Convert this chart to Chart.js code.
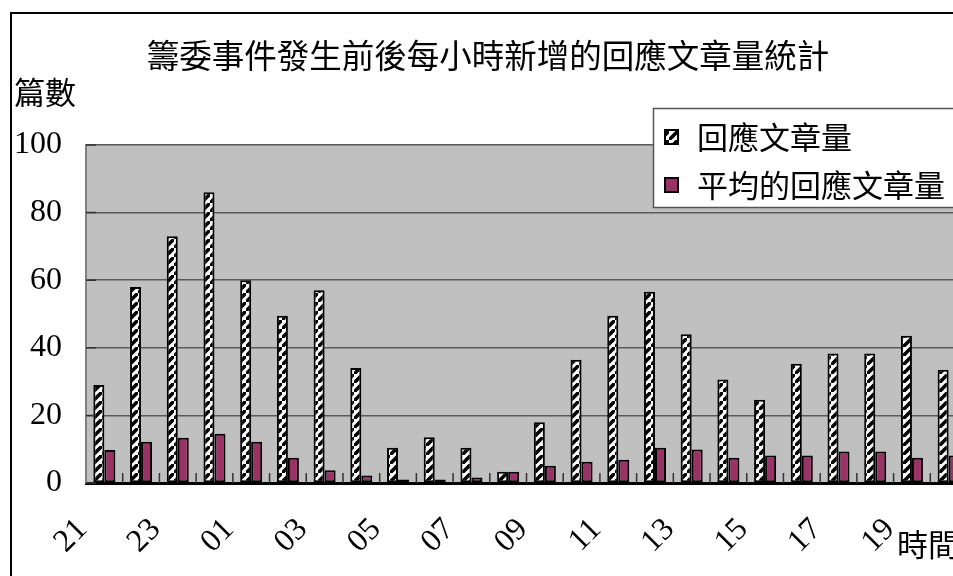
<!DOCTYPE html>
<html lang="zh-Hant">
<head>
<meta charset="UTF-8">
<title>籌委事件發生前後每小時新增的回應文章量統計</title>
<script src="https://cdn.jsdelivr.net/npm/chart.js"></script>
<style>
  html, body { margin: 0; padding: 0; background: #fff; overflow: hidden; }
  #frame {
    position: absolute; left: 10px; top: 12px;
    width: 1100px; height: 600px;
    border-left: 2px solid #000; border-top: 2px solid #000;
  }
  #wrap { position: absolute; left: 0; top: 0; width: 1000px; height: 562px; }
</style>
</head>
<body>
<div id="frame">
  <div id="wrap"><canvas id="chart"></canvas></div>
</div>
<script>
// 時間 (每小時)
const hours = ['21','22','23','00','01','02','03','04','05','06','07','08',
               '09','10','11','12','13','14','15','16','17','18','19','20'];
// 回應文章量
const replyCounts = [29, 58, 73, 86, 60, 49.5, 57, 34, 10.4, 13.5, 10.4, 3.3,
                     18, 36.5, 49.5, 56.6, 44, 30.6, 24.6, 35.3, 38.3, 38.3, 43.6, 33.5];
// 平均的回應文章量
const avgReplyCounts = [9.8, 12.2, 13.4, 14.6, 12.2, 7.5, 3.8, 2.2, 1, 1, 1.6, 3.3,
                        5.1, 6.3, 6.9, 10.4, 9.9, 7.5, 8.1, 8.1, 9.3, 9.3, 7.5, 8.1];
const yTicks = [0, 20, 40, 60, 80, 100];

const CJK = '"Noto Sans CJK TC", "Noto Sans CJK SC", sans-serif';
const SERIF = '"Liberation Serif", "DejaVu Serif", serif';

// 斜線圖樣
function makeHatch() {
  const n = 9;
  const c = document.createElement('canvas');
  c.width = n; c.height = n;
  const g = c.getContext('2d');
  g.fillStyle = '#fff';
  g.fillRect(0, 0, n, n);
  g.strokeStyle = '#000';
  g.lineWidth = 3.6;
  g.beginPath();
  g.moveTo(-2, n + 2); g.lineTo(n + 2, -2);
  g.moveTo(-n - 2, 2); g.lineTo(2, -n - 2);
  g.moveTo(n - 2, 2 * n + 2); g.lineTo(2 * n + 2, n - 2);
  g.stroke();
  return g.createPattern(c, 'repeat');
}
const hatch = makeHatch();

const plotBg = {
  id: 'plotBg',
  beforeDraw(chart) {
    const { ctx, chartArea: a } = chart;
    ctx.save();
    ctx.fillStyle = '#c0c0c0';
    ctx.fillRect(a.left, a.top, a.right - a.left, a.bottom - a.top);
    ctx.restore();
  }
};

const extras = {
  id: 'extras',
  afterDatasetsDraw(chart) {
    const { ctx, chartArea: a, scales } = chart;
    const xs = scales.x, ys = scales.y;
    ctx.save();
    ctx.strokeStyle = '#333';
    ctx.lineWidth = 1.5;
    const half = (xs.getPixelForValue(1) - xs.getPixelForValue(0)) / 2;
    ctx.beginPath();
    for (let i = 1; i < hours.length; i++) {
      const x = xs.getPixelForValue(i) - half;
      ctx.moveTo(x, a.bottom); ctx.lineTo(x, a.bottom - 10);
    }
    yTicks.forEach(v => {
      const y = ys.getPixelForValue(v);
      ctx.moveTo(a.left, y); ctx.lineTo(a.left + 10, y);
    });
    ctx.stroke();
    ctx.restore();
  },
  afterDraw(chart) {
    const { ctx } = chart;
    ctx.save();
    ctx.fillStyle = '#000';
    ctx.textBaseline = 'middle';
    ctx.font = '32.5px ' + CJK;
    ctx.textAlign = 'center';
    ctx.fillText('籌委事件發生前後每小時新增的回應文章量統計', 476, 42);
    ctx.textAlign = 'left';
    ctx.font = '31px ' + CJK;
    ctx.fillText('篇數', 2, 78);
    ctx.fillText('時間', 885, 530);

    // 圖例
    ctx.fillStyle = '#fff';
    ctx.fillRect(641, 94, 400, 99);
    ctx.strokeStyle = '#555';
    ctx.lineWidth = 1.5;
    ctx.strokeRect(641.5, 94.5, 400, 99);
    const rows = [123, 171];
    chart.data.datasets.forEach((ds, i) => {
      const y = rows[i];
      ctx.fillStyle = ds.backgroundColor;
      ctx.fillRect(653, y - 7, 13, 14);
      ctx.strokeStyle = '#000';
      ctx.lineWidth = 2;
      ctx.strokeRect(653, y - 7, 13, 14);
      ctx.fillStyle = '#000';
      ctx.font = '31px ' + CJK;
      ctx.fillText(ds.label, 685, y);
    });
    ctx.restore();
  }
};

new Chart(document.getElementById('chart'), {
  type: 'bar',
  data: {
    labels: hours,
    datasets: [
      {
        label: '回應文章量',
        data: replyCounts,
        backgroundColor: hatch,
        borderColor: '#000',
        borderWidth: 2,
        borderSkipped: false,
        barPercentage: 1,
        categoryPercentage: 0.6
      },
      {
        label: '平均的回應文章量',
        data: avgReplyCounts,
        backgroundColor: '#993366',
        borderColor: '#000',
        borderWidth: 2,
        borderSkipped: false,
        barPercentage: 1,
        categoryPercentage: 0.6
      }
    ]
  },
  options: {
    responsive: true,
    maintainAspectRatio: false,
    animation: false,
    layout: { padding: { top: 131, right: 45, left: 0, bottom: 0 } },
    plugins: {
      legend: { display: false },
      title: { display: false },
      tooltip: { enabled: false }
    },
    scales: {
      x: {
        grid: { display: false, drawTicks: false },
        border: { display: true, color: '#000', width: 3 },
        ticks: {
          autoSkip: false,
          minRotation: 45,
          maxRotation: 45,
          padding: 28,
          labelOffset: -22,
          color: '#000',
          font: { family: SERIF, size: 32 },
          callback: (v, i) => (i % 2 === 0 ? hours[i] : '')
        },
        afterFit: s => { s.height = 93; }
      },
      y: {
        min: 0,
        max: 100,
        grid: { color: '#5a5a5a', lineWidth: 1.5, drawTicks: false },
        border: { display: true, color: '#808080', width: 2 },
        ticks: {
          stepSize: 20,
          padding: 24,
          color: '#000',
          font: { family: SERIF, size: 32 }
        },
        afterFit: s => { s.width = 74; }
      }
    }
  },
  plugins: [plotBg, extras]
});
</script>
</body>
</html>
